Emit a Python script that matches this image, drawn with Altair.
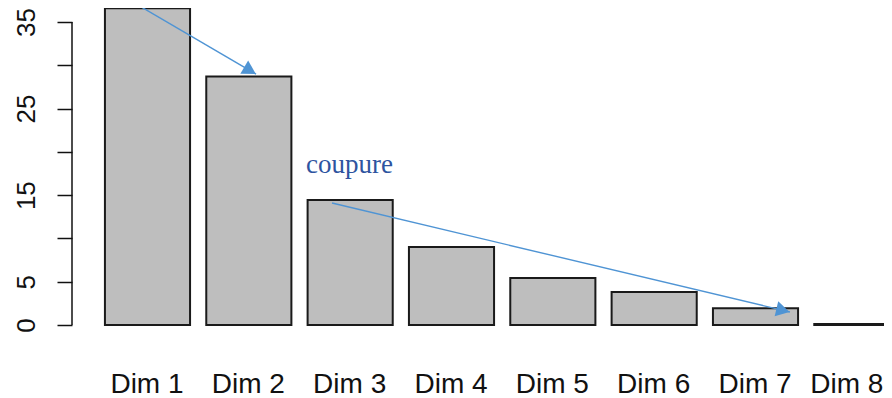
import altair as alt
import pandas as pd

# ---- data ----
dims = ["Dim 1", "Dim 2", "Dim 3", "Dim 4", "Dim 5", "Dim 6", "Dim 7", "Dim 8"]
dim_index = [1, 2, 3, 4, 5, 6, 7, 8]
values = [36.6, 28.7, 14.45, 9.0, 5.43, 3.81, 1.93, 0.12]

y_ticks = [0, 5, 10, 15, 20, 25, 30, 35]
axis_span = [0, 35]

# annotation arrows (in data units: bar index / percentage)
arrow_id = ["a1", "a1", "a2", "a2"]
arrow_x = [0.906, 2.071, 2.821, 7.340]
arrow_y = [36.96, 28.99, 14.09, 1.50]
head_x = [2.012, 7.271]
head_y = [29.40, 1.69]
head_angle = [30.3, 13.4]

note_text = ["coupure"]
note_x = [2.564]
note_y = [17.56]

X_DOMAIN = [0.255, 8.268]
Y_DOMAIN = [0, 36.62]

bars_df = pd.DataFrame({"dim": dims, "idx": dim_index, "value": values})
arrows_df = pd.DataFrame({"id": arrow_id, "x": arrow_x, "y": arrow_y,
                          "order": [0, 1, 0, 1]})
heads_df = pd.DataFrame({"x": head_x, "y": head_y, "angle": head_angle})
note_df = pd.DataFrame({"t": note_text, "x": note_x, "y": note_y})
span_df = pd.DataFrame({"lo": [axis_span[0]], "hi": [axis_span[1]]})

xscale = alt.Scale(domain=X_DOMAIN, nice=False, zero=False)
yscale = alt.Scale(domain=Y_DOMAIN, nice=False, zero=False)

FONT = "Liberation Sans"

bars = alt.Chart(bars_df).transform_calculate(
    x0="datum.idx - 0.42", x1="datum.idx + 0.42"
).mark_bar(fill="#BEBEBE", stroke="#1a1a1a", strokeWidth=2, clip=False).encode(
    x=alt.X("x0:Q", scale=xscale,
            axis=alt.Axis(values=dim_index, labelExpr="'Dim ' + datum.value",
                          ticks=False, tickSize=0, domain=False, grid=False,
                          title=None, labelFontSize=28, labelFont=FONT,
                          labelColor="#111111", labelBaseline="alphabetic",
                          labelPadding=67, labelOverlap=False,
                          labelFlush=30, labelFlushOffset=27,
                          labelOffset=-1)),
    x2="x1:Q",
    y=alt.Y("value:Q", scale=yscale,
            axis=alt.Axis(values=y_ticks,
                          labelExpr="(datum.value % 10 == 5 || datum.value == 0) ? datum.label : ''",
                          tickSize=15, tickColor="#111111", tickWidth=1.5,
                          domain=False, grid=False, title=None,
                          labelAngle=270, labelAlign="center",
                          labelBaseline="alphabetic", labelPadding=23,
                          labelFontSize=26, labelFont=FONT, labelColor="#111111",
                          labelOverlap=False, labelFlush=False)),
    y2=alt.datum(0),
)

axis_line = alt.Chart(span_df).mark_rule(color="#111111", strokeWidth=1.5).encode(
    x=alt.value(0),
    y=alt.Y("lo:Q", scale=yscale),
    y2="hi:Q",
)

arrows = alt.Chart(arrows_df).mark_line(color="#4F94D4", strokeWidth=1.4, clip=False).encode(
    x=alt.X("x:Q", scale=xscale),
    y=alt.Y("y:Q", scale=yscale),
    detail="id:N",
    order="order:Q",
)

heads = alt.Chart(heads_df).mark_point(shape="triangle-right", filled=True,
                                       color="#4F94D4", opacity=1, size=240,
                                       clip=False).encode(
    x=alt.X("x:Q", scale=xscale),
    y=alt.Y("y:Q", scale=yscale),
    angle=alt.Angle("angle:Q", scale=None),
)

note = alt.Chart(note_df).mark_text(font="Liberation Serif", fontSize=27,
                                    color="#2E54A0", align="left",
                                    baseline="alphabetic").encode(
    x=alt.X("x:Q", scale=xscale),
    y=alt.Y("y:Q", scale=yscale),
    text="t:N",
)

chart = alt.layer(bars, axis_line, arrows, heads, note).properties(
    width=812, height=317,
    padding={"left": 64, "top": 0, "right": 0, "bottom": 73},
    autosize=alt.AutoSizeParams(type="none"),
    background="white",
).configure_view(stroke=None)

chart.save("out.html", embed_options={"renderer": "svg", "actions": False})
